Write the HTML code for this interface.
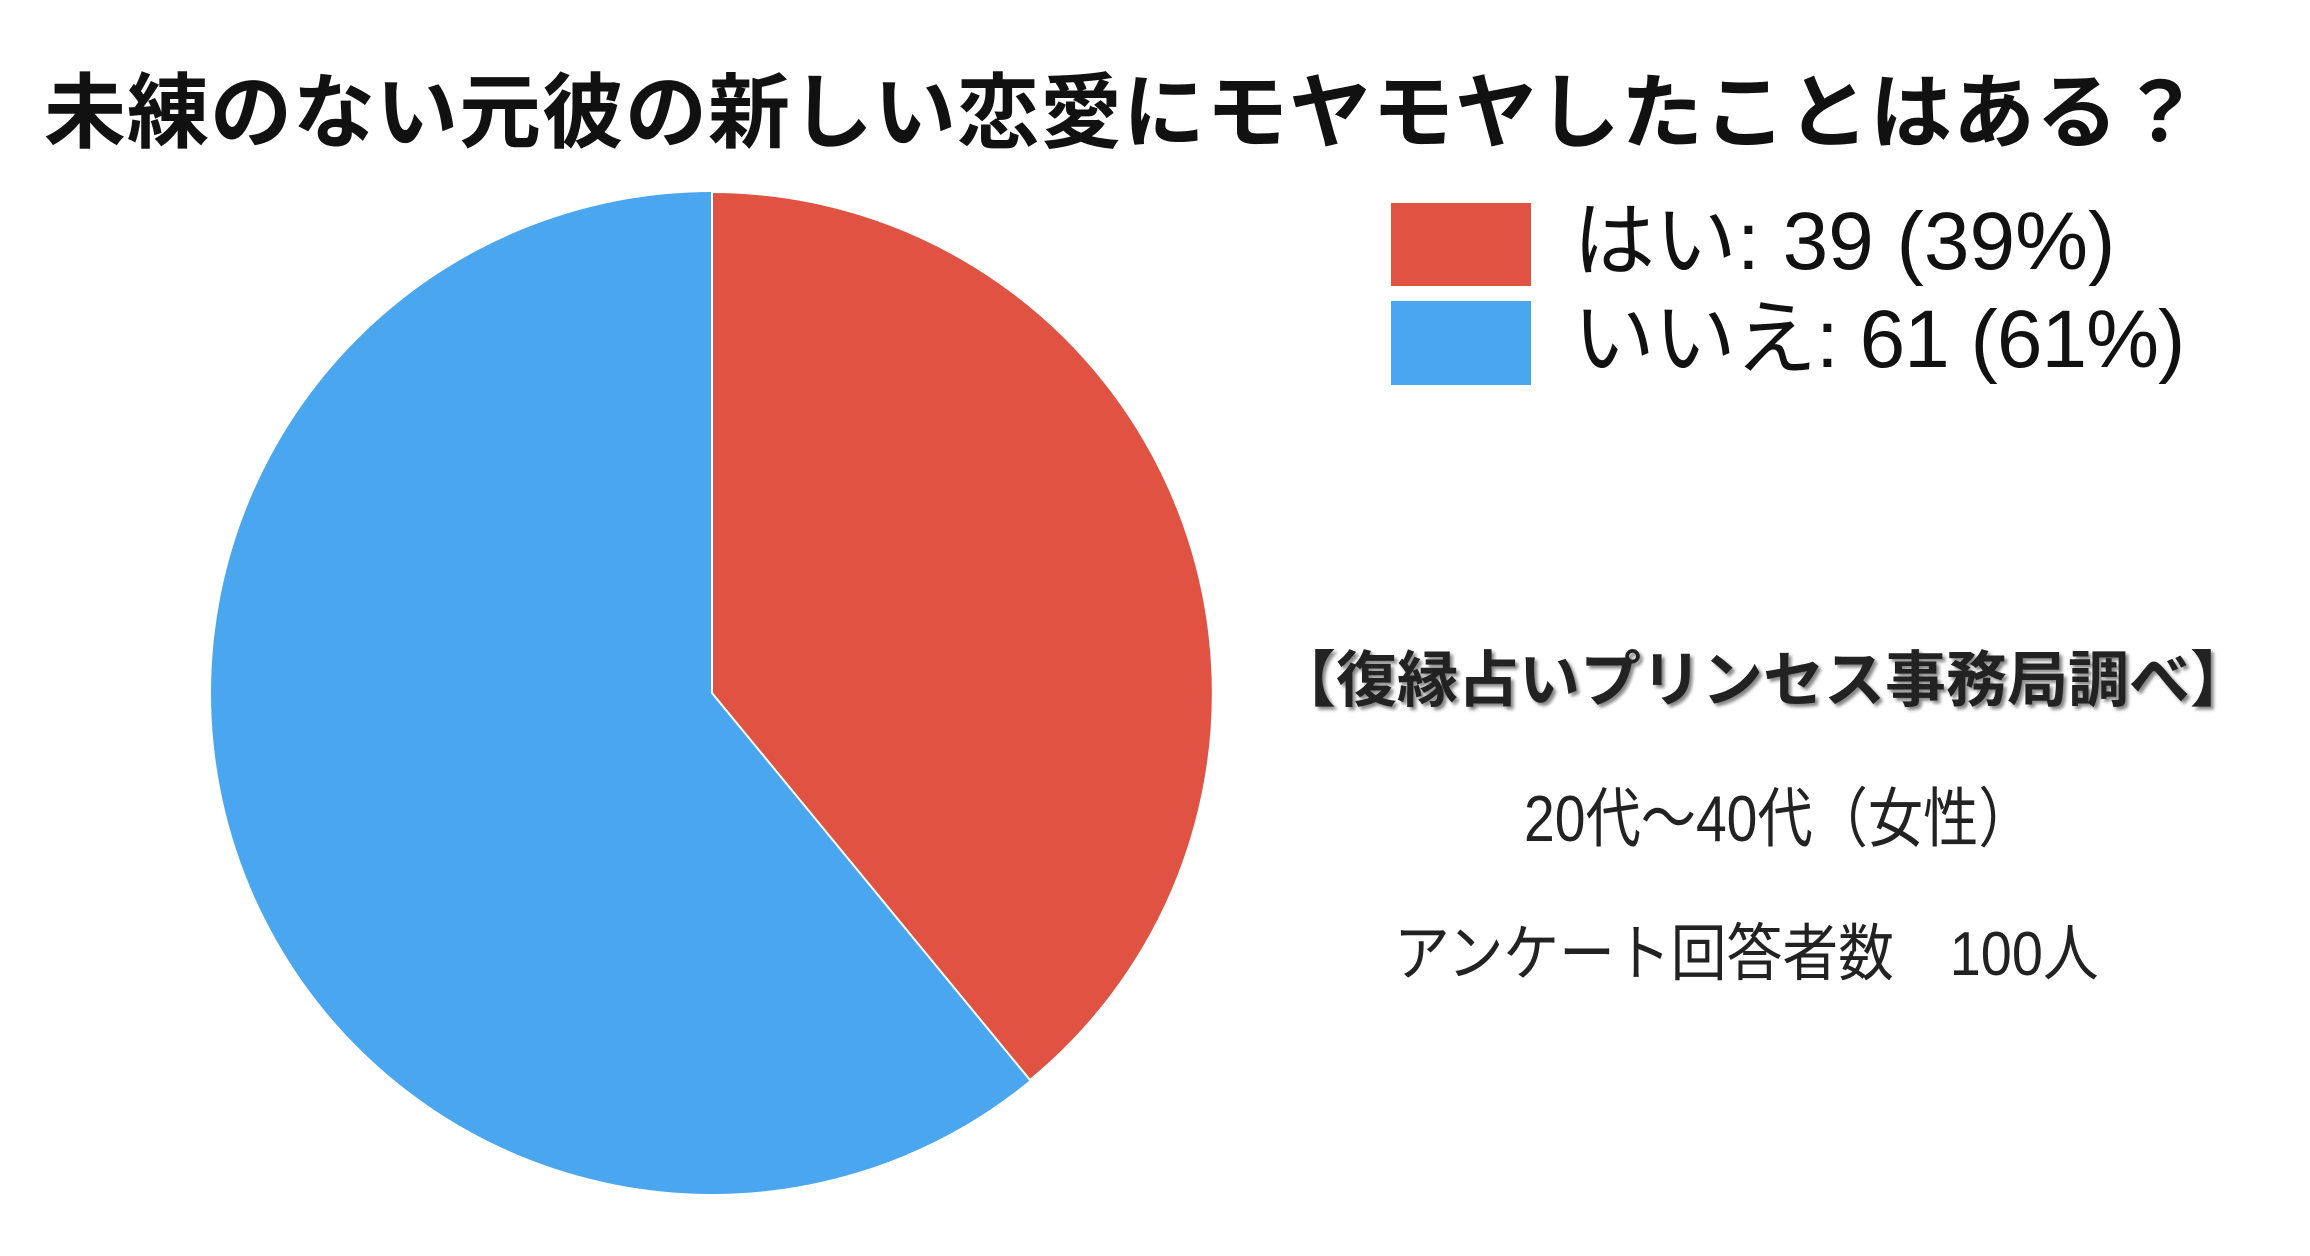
<!DOCTYPE html>
<html><head><meta charset="utf-8"><style>
html,body{margin:0;padding:0;background:#fff;}
body{width:2310px;height:1256px;position:relative;overflow:hidden;font-family:"Liberation Sans","Noto Sans CJK JP",sans-serif;}
.t{position:absolute;white-space:nowrap;}
</style></head><body>
<div class="t" style="left:44px;top:46px;font-size:82px;font-weight:bold;color:#111;letter-spacing:1px;">未練のない元彼の新しい恋愛にモヤモヤしたことはある？</div>
<svg style="position:absolute;left:0;top:0" width="2310" height="1256">
<circle cx="712" cy="693" r="501" fill="#4AA6EE"/>
<path d="M712,693 L712,192 A501,501 0 0 1 1030,1080 Z" fill="#E05343" stroke="#fff" stroke-width="2"/>
<rect x="1391" y="203" width="140" height="83" fill="#E05343"/>
<rect x="1391" y="301" width="140" height="84" fill="#4AA6EE"/>
</svg>
<div class="t" style="left:1573px;top:174px;font-size:82px;color:#111;">はい: 39 (39%)</div>
<div class="t" style="left:1573px;top:272px;font-size:82px;color:#111;letter-spacing:-1px;">いいえ: 61 (61%)</div>
<div class="t" style="left:1275px;top:630px;font-size:61px;font-weight:bold;color:#222;text-shadow:3px 3px 3px #888;">【復縁占いプリンセス事務局調べ】</div>
<div class="t" style="left:1524px;top:766px;font-size:65px;color:#222;transform:scaleX(0.85);transform-origin:left;">20代～40代（女性）</div>
<div class="t" style="left:1394px;top:903px;font-size:62px;color:#222;transform:scaleX(0.9);transform-origin:left;">アンケート回答者数　100人</div>
</body></html>
